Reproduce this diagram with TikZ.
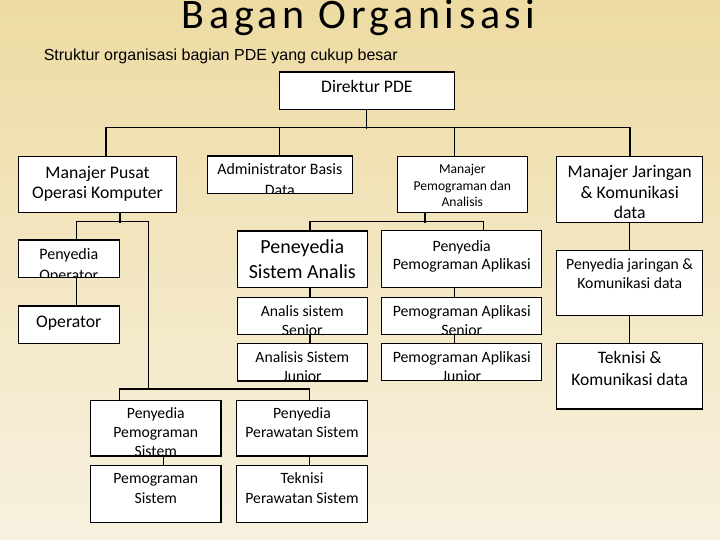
\documentclass[tikz,border=0pt]{standalone}
\usepackage{fontspec}
\setmainfont{Carlito}
\newfontfamily\titlefont[LetterSpace=11]{Carlito}
\newfontfamily\subfont{Liberation Sans}
\definecolor{bgtop}{RGB}{238,219,163}
\definecolor{bgbottom}{RGB}{247,241,224}

\tikzstyle{unit} = [rectangle, draw=black, fill=white, line width=1.2pt, inner sep=0pt]
\tikzstyle{link} = [line width=1.2pt]
\tikzset{words/.style n args={4}{path picture={\node [anchor=north, align=center, inner sep=0pt, minimum width=0pt, minimum height=0pt, font=\fontsize{#1}{#2}\selectfont] at ([yshift={0.7*#2-#3}]path picture bounding box.north) {\strut #4};}}}

\begin{document}
\begin{tikzpicture}[x=1pt, y=-1pt, node distance=46.3]
		\useasboundingbox (0,0) rectangle (720,540);
		\shade [top color=bgtop, bottom color=bgbottom] (0,0) rectangle (720,540);
		
		\node (title) [font=\titlefont\fontsize{42}{46}\selectfont, anchor=base, inner sep=0pt] at (358.8,28.3) {Bagan Organisasi};
		\node (subtitle) [font=\subfont\fontsize{16}{19}\selectfont, anchor=base west, inner sep=0pt] at (43.6,61) {Struktur organisasi bagian PDE yang cukup besar};
		
		\node (direktur) [unit, minimum width=175, minimum height=37.3, words={17.6}{20}{19.7}{Direktur PDE}] at (366.8,90.7) {};
		
		\node (pusat) [unit, minimum width=158.4, minimum height=55.6, words={17.7}{20}{21}{Manajer Pusat\\Operasi Komputer}] at (97.5,184.5) {};
		\node (admin) [unit, minimum width=145, minimum height=37.3, words={15.9}{21}{18.3}{Administrator Basis\\Data}] at (279.8,174.6) {};
		\node (pemanalis) [unit, minimum width=130, minimum height=55.6, words={13.6}{16.5}{16.6}{Manajer\\Pemograman dan\\Analisis}] at (462.3,184.5) {};
		\node (jaringan) [unit, minimum width=146, minimum height=65.6, words={17.7}{20.5}{20.6}{Manajer Jaringan\\\& Komunikasi\\data}] at (629.7,189.5) {};
		
		\node (penop) [unit, minimum width=101, minimum height=37.7, words={16}{21}{19}{Penyedia\\Operator}] at (68.8,258.8) {};
		\node (operator) [unit, minimum width=101, minimum height=37.3, words={17.7}{20}{21.3}{Operator}, below of=penop, node distance=65.9] {};
		
		\node (psa) [unit, minimum width=130, minimum height=56.3, words={20}{24.4}{22.3}{Peneyedia\\Sistem Analis}] at (302.3,259.2) {};
		\node (ass) [unit, minimum width=130, minimum height=37, words={15.7}{19.5}{18.4}{Analis sistem\\Senior}, below of=psa, node distance=56.6] {};
		\node (asj) [unit, minimum width=130, minimum height=37.7, words={15.7}{19.5}{18.4}{Analisis Sistem\\Junior}, below of=ass] {};
		
		\node (ppa) [unit, minimum width=160, minimum height=56.6, words={15.8}{18.5}{20}{Penyedia\\Pemograman Aplikasi}] at (461.7,259) {};
		\node (pas) [unit, minimum width=160, minimum height=37, words={15.8}{19.5}{18.4}{Pemograman Aplikasi\\Senior}, below of=ppa, node distance=56.8] {};
		\node (paj) [unit, minimum width=160, minimum height=37.4, words={15.8}{19.5}{18.4}{Pemograman Aplikasi\\Junior}, below of=pas] {};
		
		\node (pjk) [unit, minimum width=146, minimum height=65, words={15.7}{18.4}{18.6}{Penyedia jaringan \&\\Komunikasi data}, below of=jaringan, node distance=93.7] {};
		\node (tkd) [unit, minimum width=146, minimum height=65.7, words={17.5}{21.7}{20}{Teknisi \&\\Komunikasi data}, below of=pjk, node distance=93] {};
		
		\node (pps) [unit, minimum width=130.3, minimum height=55.3, words={15.7}{19}{17.6}{Penyedia\\Pemograman\\Sistem}] at (155.8,428.3) {};
		\node (pms) [unit, minimum width=130.3, minimum height=57, words={15.7}{19.4}{18}{Pemograman\\Sistem}, below of=pps, node distance=65.5] {};
		\node (pprs) [unit, minimum width=130.6, minimum height=55.3, words={15.7}{19}{17.6}{Penyedia\\Perawatan Sistem}] at (302,428.3) {};
		\node (tps) [unit, minimum width=130.6, minimum height=57, words={15.7}{19.4}{18}{Teknisi\\Perawatan Sistem}, below of=pprs, node distance=65.5] {};
		
		% direktur to the four managers
		\draw [link] (direktur.south) -- ++(0,19);
		\draw [link] ([xshift=8.5]pusat.north) -- ++(0,-28.4) -| ([xshift=0.3]jaringan.north);
		\draw [link] (admin.north) -- ++(0,-27.7);
		\draw [link] ([xshift=-7.8]pemanalis.north) -- ++(0,-28.4);
		
		% pusat operasi komputer
		\draw [link] ([xshift=22.5]pusat.south) -- ++(0,10);
		\draw [link] ([xshift=7.9]penop.north) -- ++(0,-17.7) -- ++(71.6,0) -- ++(0,167.4);
		\draw [link] ([xshift=7.9]penop.south) -- ([xshift=7.9]operator.north);
		\draw [link] ([xshift=-36.5]pps.north) -- ++(0,-11) -| ([xshift=7.3]pprs.north);
		\draw [link] ([xshift=7.5]pps.south) -- ([xshift=7.5]pms.north);
		\draw [link] ([xshift=7.3]pprs.south) -- ([xshift=7.3]tps.north);
		
		% pemograman dan analisis
		\draw [link] ([xshift=-37.3]pemanalis.south) -- ++(0,10);
		\draw [link] ([xshift=7.7]psa.north) -- ++(0,-8.7) -| ([xshift=21.6]ppa.north);
		\draw [link] ([xshift=7.7]psa.south) -- ([xshift=7.7]ass.north);
		\draw [link] ([xshift=7.7]ass.south) -- ([xshift=7.7]asj.north);
		\draw [link] ([xshift=-7.4]ppa.south) -- ([xshift=-7.4]pas.north);
		\draw [link] ([xshift=-7.4]pas.south) -- ([xshift=-7.4]paj.north);
		
		% jaringan dan komunikasi
		\draw [link] (jaringan.south) -- (pjk.north);
		\draw [link] (pjk.south) -- (tkd.north);
	
	\end{tikzpicture}
\end{document}
